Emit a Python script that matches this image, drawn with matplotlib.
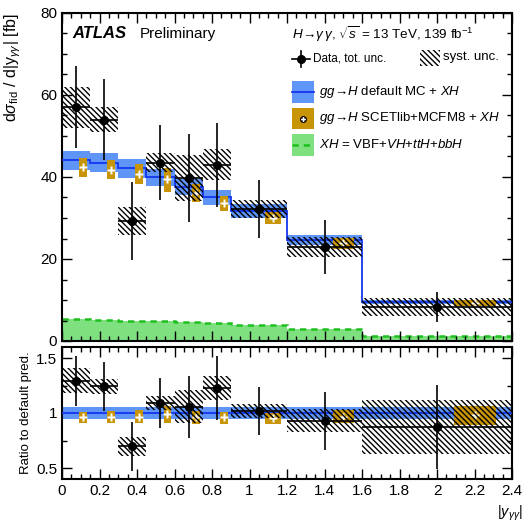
import numpy as np
import matplotlib
matplotlib.use('Agg')
import matplotlib.pyplot as plt
from matplotlib.patches import Rectangle
from matplotlib.ticker import MultipleLocator, FormatStrFormatter

plt.rcParams['font.family'] = ['Liberation Sans', 'DejaVu Sans']
plt.rcParams['mathtext.fontset'] = 'custom'
plt.rcParams['mathtext.rm'] = 'Liberation Sans'
plt.rcParams['mathtext.it'] = 'Liberation Sans:italic'
plt.rcParams['mathtext.bf'] = 'Liberation Sans:bold'
plt.rcParams['hatch.linewidth'] = 1.0

# bins in |y_gg|
edges = np.array([0, 0.15, 0.3, 0.45, 0.6, 0.75, 0.9, 1.2, 1.6, 2.4])

# measured cross section [fb]
data = np.array([57.0, 54.0, 29.3, 43.5, 39.7, 43.0, 32.2, 22.9, 8.3])
data_tot = np.array([10.0, 9.8, 9.5, 9.2, 10.7, 10.2, 7.0, 6.5, 3.6])
data_syst = np.array([5.0, 3.0, 3.5, 2.4, 5.6, 3.8, 2.1, 2.5, 2.3])

# gg->H default MC + XH
default = np.array([44.1, 43.5, 42.1, 39.9, 37.6, 35.1, 31.6, 24.6, 9.5])
default_unc = np.array([2.35, 2.3, 2.25, 2.1, 2.0, 1.85, 1.7, 1.3, 0.5])

# gg->H SCETlib+MCFM8 + XH
scet = np.array([42.4, 41.8, 40.7, 39.4, 36.1, 33.7, 30.1, 23.8, 9.3])
scet_lo = np.array([40.0, 39.4, 38.4, 36.3, 33.9, 31.7, 28.5, 22.4, 8.5])
scet_hi = np.array([44.7, 44.1, 43.1, 42.3, 38.2, 35.4, 31.5, 25.2, 10.1])

# XH = VBF+VH+ttH+bbH
xh = np.array([5.3, 5.2, 5.0, 4.8, 4.55, 4.4, 3.85, 2.85, 1.2])

blue_band = '#5f95f7'
blue_line = '#1436f0'
gold = '#c99508'
green_fill = '#7fe07f'
green_line = '#1fc01f'
hatch = '\\' * 6

centers = 0.5 * (edges[1:] + edges[:-1])
widths = edges[1:] - edges[:-1]


def draw_panel(ax, norm, top):
    # default MC band and line
    lo = (default - default_unc) / norm
    hi = (default + default_unc) / norm
    ax.fill_between(edges, np.append(lo, lo[-1]), np.append(hi, hi[-1]),
                    step='post', color=blue_band, lw=0, zorder=2)
    ax.stairs(default / norm, edges, baseline=None, color=blue_line, lw=1.3, zorder=3)

    if top:
        ax.stairs(xh, edges, fill=True, color=green_fill, zorder=1)
        ax.stairs(xh, edges, baseline=None, color=green_line, lw=1.8,
                  ls=(0, (2.5, 2)), zorder=1.5)

    # SCETlib boxes
    for i in range(len(scet)):
        w = widths[i]
        ax.add_patch(Rectangle((edges[i] + 0.61 * w, scet_lo[i] / norm[i]), 0.28 * w,
                               (scet_hi[i] - scet_lo[i]) / norm[i],
                               fc=gold, ec='none', zorder=4))
    ax.plot(edges[:-1] + 0.75 * widths, scet / norm, ls='none', marker='P',
            color='white', ms=5.5, mec='none', zorder=5)

    # syst hatch
    for i in range(len(data)):
        ax.add_patch(Rectangle((edges[i], (data[i] - data_syst[i]) / norm[i]), widths[i],
                               2 * data_syst[i] / norm[i], fill=False, hatch=hatch,
                               ec='black', lw=0, zorder=6))

    ax.errorbar(centers, data / norm, yerr=data_tot / norm, xerr=widths / 2, fmt='o',
                color='black', ms=5.5, elinewidth=1.2, capsize=0, zorder=7)

    ax.set_xlim(0, 2.4)
    ax.xaxis.set_major_locator(MultipleLocator(0.2))
    ax.xaxis.set_minor_locator(MultipleLocator(0.05))
    ax.tick_params(which='both', direction='in', top=True, right=True, labelsize=11)
    ax.tick_params(which='major', length=7, width=1)
    ax.tick_params(which='minor', length=3.5, width=1)
    for s in ax.spines.values():
        s.set_linewidth(1.5)


fig = plt.figure(figsize=(5.25, 5.23), dpi=100)
ax1 = fig.add_axes([62 / 525, 1 - 341 / 523, 450 / 525, 328 / 523])
ax2 = fig.add_axes([62 / 525, 1 - 479 / 523, 450 / 525, 132 / 523])

draw_panel(ax1, np.ones(len(data)), True)
draw_panel(ax2, default, False)

ax1.set_ylim(0, 80)
ax1.yaxis.set_major_locator(MultipleLocator(20))
ax1.yaxis.set_minor_locator(MultipleLocator(5))
ax1.tick_params(labelbottom=False)

ax2.set_ylim(0.4, 1.6)
ax2.yaxis.set_major_locator(MultipleLocator(0.5))
ax2.yaxis.set_minor_locator(MultipleLocator(0.25))
ax2.yaxis.set_major_formatter(FormatStrFormatter('%g'))
ax2.xaxis.set_major_formatter(FormatStrFormatter('%g'))

fig.text(13 / 525, 1 - 13 / 523, r'd$\sigma_{\mathrm{fid}}$ / d|y$_{\gamma\gamma}$| [fb]',
         rotation=90, ha='center', va='top', fontsize=11.5)
fig.text(26 / 525, 1 - 413 / 523, 'Ratio to default pred.', rotation=90,
         ha='center', va='center', fontsize=9.5)
fig.text(523 / 525, 1 - 513 / 523, r'|$y_{\gamma\gamma}$|', ha='right', va='center',
         fontsize=10.5)

# labels and legend
tr = ax1.transAxes
ax1.text(0.022, 0.924, 'ATLAS', transform=tr, fontsize=12, fontweight='bold',
         style='italic')
ax1.text(0.173, 0.924, 'Preliminary', transform=tr, fontsize=11)
ax1.text(0.511, 0.92, r'$H\!\rightarrow\!\gamma\,\gamma$, $\sqrt{s}$ = 13 TeV, 139 fb$^{-1}$',
         transform=tr, fontsize=9.7)

ax1.plot([0.511, 0.551], [0.86, 0.86], color='black', lw=1.2, transform=tr)
ax1.plot([0.531, 0.531], [0.836, 0.884], color='black', lw=1.2, transform=tr)
ax1.plot([0.531], [0.86], marker='o', color='black', ms=5.5, transform=tr)
ax1.text(0.558, 0.86, 'Data, tot. unc.', transform=tr, fontsize=8.5, va='center')
ax1.add_patch(Rectangle((0.796, 0.838), 0.044, 0.05, transform=tr, fill=False,
                        hatch=hatch, ec='black', lw=0))
ax1.text(0.847, 0.866, 'syst. unc.', transform=tr, fontsize=9.5, va='center')

px, pw, ph = (292 - 62) / 450, 22 / 450, 21 / 328
rows = [(341 - 92) / 328, (341 - 118.5) / 328, (341 - 145) / 328]
labels = [r'$gg\!\rightarrow\!H$ default MC + $XH$',
          r'$gg\!\rightarrow\!H$ SCETlib+MCFM8 + $XH$',
          r'$XH$ = VBF+$VH$+$ttH$+$bbH$']
ax1.add_patch(Rectangle((px, rows[0] - ph / 2), pw, ph, transform=tr, fc=blue_band, ec='none'))
ax1.plot([px, px + pw], [rows[0], rows[0]], color=blue_line, lw=1.3, transform=tr)
ax1.add_patch(Rectangle((px, rows[1] - ph / 2), pw, ph, transform=tr, fc=gold, ec='none'))
ax1.plot([px + pw / 2], [rows[1]], marker='o', color='black', ms=4, transform=tr)
ax1.plot([px + pw / 2], [rows[1]], marker='P', color='white', ms=3.5, mec='none', transform=tr)
ax1.add_patch(Rectangle((px, rows[2] - ph / 2), pw, ph, transform=tr, fc=green_fill, ec='none'))
ax1.plot([px, px + pw], [rows[2], rows[2]], color=green_line, lw=1.8, ls=(0, (2.5, 2)),
         transform=tr)
for r, lab in zip(rows, labels):
    ax1.text(px + pw + 0.012, r, lab, transform=tr, fontsize=9.5, va='center')

plt.savefig('out.png', dpi=100)
